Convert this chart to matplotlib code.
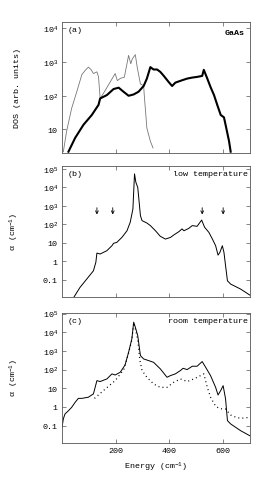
import numpy as np
import matplotlib
matplotlib.use('Agg')
import matplotlib.pyplot as plt
from matplotlib.ticker import FixedLocator, NullLocator

plt.rcParams['font.family'] = ['Liberation Mono', 'DejaVu Sans Mono']
plt.rcParams['mathtext.fontset'] = 'custom'
plt.rcParams['mathtext.rm'] = 'Liberation Mono'
plt.rcParams['mathtext.it'] = 'Liberation Mono'

### panel (a): phonon DOS, thin and thick curves (log10 of value)
a_thin_x = [5, 17, 36, 55, 74, 86, 98, 108, 117, 130, 136, 142, 155, 175, 198, 206,
            218, 232, 248, 256, 262, 273, 280, 292, 304, 306, 316, 329, 339]
a_thin_lg = [0.34, 0.94, 1.63, 2.12, 2.63, 2.75, 2.85, 2.78, 2.66, 2.71, 2.56, 1.92,
             2.08, 2.35, 2.66, 2.45, 2.52, 2.55, 3.2, 2.95, 3.1, 3.22, 2.85, 2.35,
             2.3, 2.05, 1.04, 0.65, 0.45]
a_thick_x = [24, 49, 80, 111, 136, 142, 167, 192, 211, 229, 248, 267, 285, 304, 316,
             329, 341, 354, 366, 379, 397, 410, 422, 447, 466, 485, 503, 522, 528,
             541, 553, 566, 578, 591, 603, 609, 622, 628]
a_thick_lg = [0.34, 0.75, 1.14, 1.43, 1.73, 1.92, 2.02, 2.2, 2.24, 2.12, 2.0, 2.04,
              2.12, 2.29, 2.51, 2.85, 2.78, 2.78, 2.71, 2.59, 2.41, 2.29, 2.39, 2.46,
              2.51, 2.54, 2.56, 2.59, 2.77, 2.51, 2.26, 2.02, 1.73, 1.43, 1.36,
              1.14, 0.65, 0.34]

### panel (b): low temperature absorption
b_x = [45, 67, 92, 117, 126, 130, 142, 167, 186, 192, 204, 223, 242, 254, 264, 270,
       275, 282, 285, 292, 298, 316, 329, 348, 366, 385, 404, 416, 435, 447, 454,
       472, 485, 503, 520, 531, 547, 560, 572, 581, 588, 597, 603, 609, 616, 628,
       665, 703]
b_lg = [-1.93, -1.42, -0.97, -0.52, -0.06, 0.44, 0.39, 0.57, 0.84, 0.97, 1.02, 1.29,
        1.65, 2.11, 2.83, 4.73, 4.28, 4.0, 3.55, 2.47, 2.2, 2.07, 1.93, 1.65, 1.35,
        1.2, 1.29, 1.42, 1.6, 1.75, 1.65, 1.78, 1.93, 1.89, 2.23, 1.84, 1.56, 1.2,
        0.84, 0.33, 0.48, 0.84, 0.48, -0.24, -1.06, -1.24, -1.51, -1.87]
b_arrows = [130, 189, 522, 600]

### panel (c): room temperature, solid and dotted
c_x = [0, 5, 11, 24, 36, 49, 61, 74, 98, 117, 130, 142, 167, 186, 198, 217, 235,
       248, 260, 267, 273, 282, 292, 304, 323, 341, 366, 391, 404, 422, 441, 451,
       466, 485, 503, 522, 535, 553, 572, 581, 591, 600, 609, 616, 628, 665, 703]
c_lg = [-1.09, -0.64, -0.38, -0.2, -0.02, 0.25, 0.46, 0.46, 0.52, 0.7, 1.41, 1.36,
        1.5, 1.77, 1.71, 1.86, 2.25, 2.93, 3.64, 4.54, 4.27, 3.82, 2.75, 2.57, 2.48,
        2.39, 2.04, 1.59, 1.68, 1.77, 1.95, 2.07, 2.0, 2.18, 2.18, 2.43, 2.12, 1.68,
        1.05, 0.64, 0.88, 1.14, 0.43, -0.73, -0.91, -1.27, -1.57]
c_dot_x = [121, 161, 198, 230, 248, 260, 267, 273, 282, 290, 298, 316, 341, 366, 391,
           416, 441, 466, 491, 516, 528, 541, 553, 572, 585, 597, 609, 628, 647,
           665, 703]
c_dot_lg = [0.46, 0.96, 1.41, 2.0, 2.9, 3.6, 4.5, 4.2, 3.6, 2.5, 1.95, 1.59, 1.23,
            1.05, 1.05, 1.32, 1.5, 1.36, 1.5, 1.68, 1.77, 1.05, 0.52, 0.04, -0.07,
            -0.11, -0.11, -0.43, -0.55, -0.61, -0.55]

W, H = 267, 485
fig = plt.figure(figsize=(W / 100, H / 100), dpi=100)

def box(top, bottom):
    return [62 / W, 1 - bottom / H, (250 - 62) / W, (bottom - top) / H]

ax_a = fig.add_axes(box(23, 154))
ax_b = fig.add_axes(box(167, 298))
ax_c = fig.add_axes(box(314, 444))

fs = 6
grey = '#555555'

def style(ax, yticks, ylabels, ylim):
    ax.set_yscale('log')
    ax.set_xlim(0, 700)
    ax.set_ylim(*ylim)
    ax.xaxis.set_major_locator(FixedLocator([200, 400, 600]))
    ax.yaxis.set_major_locator(FixedLocator(yticks))
    ax.yaxis.set_minor_locator(NullLocator())
    ax.set_yticklabels(ylabels)
    ax.tick_params(direction='in', top=True, right=True, length=3, width=0.5,
                   labelsize=fs, color=grey, pad=3)
    for s in ax.spines.values():
        s.set_linewidth(0.6)
        s.set_color(grey)

ax_a.plot(a_thin_x, 10 ** np.array(a_thin_lg), color='#777777', lw=0.6)
ax_a.plot(a_thick_x, 10 ** np.array(a_thick_lg), color='black', lw=1.5)
style(ax_a, [10, 1e2, 1e3, 1e4], ['10', '$10^{2}$', '$10^{3}$', '$10^{4}$'],
      (2.0, 10 ** 4.19))
ax_a.set_xticklabels([])
ax_a.text(0.03, 0.97, '(a)', transform=ax_a.transAxes, fontsize=fs, va='top')
ax_a.text(0.97, 0.95, 'GaAs', transform=ax_a.transAxes, fontsize=fs, va='top',
          ha='right', fontweight='bold')

alpha_ticks = [0.1, 1, 10, 1e2, 1e3, 1e4, 1e5]
alpha_labels = ['0.1', '1', '10', '$10^{2}$', '$10^{3}$', '$10^{4}$', '$10^{5}$']

ax_b.plot(b_x, 10 ** np.array(b_lg), color='black', lw=0.7)
for xa in b_arrows:
    ax_b.annotate('', xy=(xa, 10 ** 2.38), xytext=(xa, 10 ** 3.05),
                  arrowprops=dict(arrowstyle='->', lw=0.6, color='black',
                                  mutation_scale=5))
style(ax_b, alpha_ticks, alpha_labels, (10 ** -1.94, 10 ** 5.16))
ax_b.set_xticklabels([])
ax_b.text(0.03, 0.97, '(b)', transform=ax_b.transAxes, fontsize=fs, va='top')
ax_b.text(0.99, 0.97, 'low temperature', transform=ax_b.transAxes, fontsize=fs,
          va='top', ha='right')

ax_c.plot(c_x, 10 ** np.array(c_lg), color='black', lw=0.7)
ax_c.plot(c_dot_x, 10 ** np.array(c_dot_lg), color='black', lw=0.9, ls=(0, (0.8, 2.5)))
style(ax_c, alpha_ticks, alpha_labels, (10 ** -1.93, 10 ** 5.03))
ax_c.set_xticklabels(['200', '400', '600'])
ax_c.text(0.03, 0.97, '(c)', transform=ax_c.transAxes, fontsize=fs, va='top')
ax_c.text(0.99, 0.97, 'room temperature', transform=ax_c.transAxes, fontsize=fs,
          va='top', ha='right')
ax_c.set_xlabel('Energy (cm$^{-1}$)', fontsize=fs, labelpad=4)

fig.text(18 / W, 1 - 88 / H, 'DOS (arb. units)', rotation=90, fontsize=fs,
         ha='center', va='center')
fig.text(14 / W, 1 - 232 / H, '\u03b1 (cm$^{-1}$)', rotation=90, fontsize=fs,
         ha='center', va='center')
fig.text(14 / W, 1 - 378 / H, '\u03b1 (cm$^{-1}$)', rotation=90, fontsize=fs,
         ha='center', va='center')

fig.savefig('out.png', dpi=100)
